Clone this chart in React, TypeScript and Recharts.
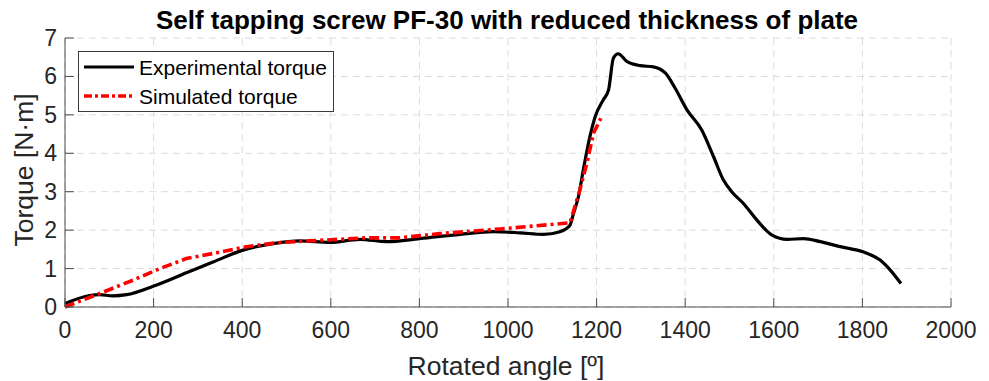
import React from 'react';
import { LineChart, Line, XAxis, YAxis, CartesianGrid } from 'recharts';

const expAngle = [0, 56, 78, 108, 139, 199, 274, 334, 402, 470, 530, 598, 666, 726, 801, 892, 967, 1027, 1080, 1117, 1140, 1148, 1159, 1170, 1185, 1197, 1215, 1227, 1238, 1249, 1268, 1298, 1328, 1355, 1377, 1404, 1437, 1464, 1486, 1505, 1531, 1562, 1596, 1630, 1667, 1705, 1750, 1803, 1840, 1863, 1887];
const expTorque = [0.09, 0.3, 0.32, 0.29, 0.32, 0.54, 0.89, 1.17, 1.48, 1.65, 1.72, 1.68, 1.76, 1.7, 1.78, 1.89, 1.96, 1.93, 1.89, 1.96, 2.13, 2.44, 2.87, 3.57, 4.44, 4.96, 5.39, 5.65, 6.48, 6.59, 6.39, 6.28, 6.25, 6.09, 5.7, 5.13, 4.61, 3.91, 3.31, 3.0, 2.7, 2.26, 1.87, 1.76, 1.78, 1.7, 1.57, 1.43, 1.22, 0.96, 0.61];

const simAngle = [0, 78, 154, 214, 274, 342, 410, 478, 551, 681, 756, 846, 982, 1140, 1162, 1178, 1193, 1212];
const simTorque = [0, 0.35, 0.7, 1.0, 1.26, 1.41, 1.57, 1.67, 1.72, 1.8, 1.8, 1.91, 2.03, 2.19, 3.04, 3.74, 4.52, 4.97];

const xTicks = [0, 200, 400, 600, 800, 1000, 1200, 1400, 1600, 1800, 2000];
const yTicks = [0, 1, 2, 3, 4, 5, 6, 7];

const expData = expAngle.map((x, i) => ({ x, exp: expTorque[i] }));
const simData = simAngle.map((x, i) => ({ x, sim: simTorque[i] }));

const FONT = '"Liberation Sans", Arial, sans-serif';
const TEXT = '#262626';
const AXIS = '#4d4d4d';
const TICK_FS = 23;

const XTick = (props: any) => {
  const { x, y, payload } = props;
  return (
    <g>
      <line x1={x} y1={y} x2={x} y2={y - 9} stroke={AXIS} strokeWidth={1} />
      <text x={x} y={y + 31} textAnchor="middle" fontSize={TICK_FS} fontFamily={FONT} fill={TEXT}>
        {payload.value}
      </text>
    </g>
  );
};

const YTick = (props: any) => {
  const { x, y, payload } = props;
  return (
    <g>
      <line x1={x} y1={y} x2={x + 9} y2={y} stroke={AXIS} strokeWidth={1} />
      <text x={x - 8} y={y + 8} textAnchor="end" fontSize={TICK_FS} fontFamily={FONT} fill={TEXT}>
        {payload.value}
      </text>
    </g>
  );
};

export default function App() {
  return (
    <div style={{ position: 'fixed', left: 0, top: 0, width: 989, height: 381, background: '#fff' }}>
      <LineChart width={989} height={381} margin={{ top: 38, right: 38, left: 0, bottom: 0 }}>
        <CartesianGrid stroke="#dcdcdc" strokeDasharray="7 5" />
        <XAxis
          type="number"
          dataKey="x"
          domain={[0, 2000]}
          ticks={xTicks}
          interval={0}
          height={74}
          tickSize={0}
          tickMargin={0}
          tick={<XTick />}
          axisLine={{ stroke: AXIS }}
          allowDuplicatedCategory={false}
        />
        <YAxis
          type="number"
          domain={[0, 7]}
          ticks={yTicks}
          interval={0}
          width={65}
          tickSize={0}
          tickMargin={0}
          tick={<YTick />}
          axisLine={{ stroke: AXIS }}
        />
        <Line
          data={expData}
          dataKey="exp"
          type="monotone"
          stroke="#000"
          strokeWidth={3.2}
          dot={false}
          isAnimationActive={false}
        />
        <Line
          data={simData}
          dataKey="sim"
          type="linear"
          stroke="#ff0000"
          strokeWidth={3.6}
          strokeDasharray="10 4 3 4"
          dot={false}
          isAnimationActive={false}
        />
      </LineChart>
      <svg width={989} height={381} style={{ position: 'absolute', left: 0, top: 0, pointerEvents: 'none' }}>
        <text x={507} y={29} textAnchor="middle" fontSize={26} fontWeight="bold" fontFamily={FONT} fill="#000">
          Self tapping screw PF-30 with reduced thickness of plate
        </text>
        <text x={506} y={375} textAnchor="middle" fontSize={26.5} fontFamily={FONT} fill={TEXT}>
          Rotated angle [º]
        </text>
        <text
          x={33}
          y={170}
          textAnchor="middle"
          fontSize={26.5}
          fontFamily={FONT}
          fill={TEXT}
          transform="rotate(-90 33 170)"
        >
          Torque [N·m]
        </text>
        <rect x={78.5} y={51.5} width={255} height={60} fill="#fff" stroke="#3a3a3a" strokeWidth={1} />
        <line x1={84} y1={67} x2={134} y2={67} stroke="#000" strokeWidth={3.2} />
        <line x1={84} y1={96} x2={134} y2={96} stroke="#ff0000" strokeWidth={3.6} strokeDasharray="8 3 3 3" />
        <text x={139} y={74.5} fontSize={21} fontFamily={FONT} fill="#000">
          Experimental torque
        </text>
        <text x={139} y={103.5} fontSize={21} fontFamily={FONT} fill="#000">
          Simulated torque
        </text>
      </svg>
    </div>
  );
}
